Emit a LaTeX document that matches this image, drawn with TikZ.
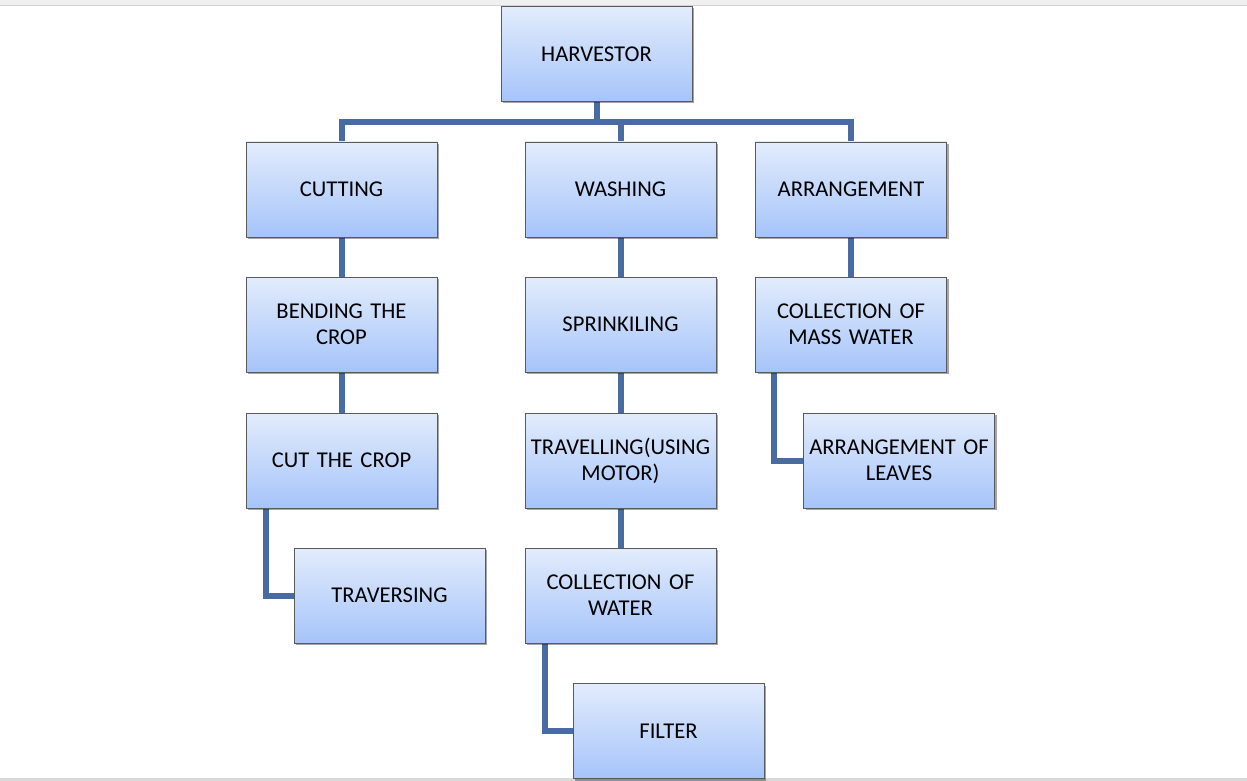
\documentclass[tikz,border=0pt]{standalone}
\usepackage{fontspec}
\setmainfont{Carlito}
\usetikzlibrary{shadows,backgrounds}
\definecolor{linkblue}{RGB}{72,108,162}
\definecolor{boxtop}{RGB}{226,236,252}
\definecolor{boxbot}{RGB}{166,196,250}
\definecolor{boxedge}{RGB}{90,90,90}
\tikzset{
  boxnode/.style={rectangle, draw=boxedge, line width=0.9pt,
    top color=boxtop, bottom color=boxbot,
    minimum width=191pt, minimum height=95pt, inner sep=1pt,
    text width=189pt, align=center,
    font=\fontsize{22.6}{26}\selectfont,
    drop shadow={shadow xshift=2pt, shadow yshift=-2pt, opacity=0.35, fill=black}},
  link/.style={draw=linkblue, line width=6pt, line join=miter}
}
\begin{document}
\begin{tikzpicture}[x=1pt,y=-1pt]
\useasboundingbox (0,0) rectangle (1247,781);
\node[boxnode] (harv) at (596.5,54) {HARVESTOR};
\node[boxnode] (cut) at (341.5,189.5) {CUTTING};
\node[boxnode] (wash) at (620.5,189.5) {WASHING};
\node[boxnode] (arr) at (851,189.5) {ARRANGEMENT};
\node[boxnode] (bend) at (341.5,324.5) {BENDING THE\\CROP};
\node[boxnode] (spr) at (620.5,324.5) {SPRINKILING};
\node[boxnode] (cmw) at (851,324.5) {COLLECTION OF\\MASS WATER};
\node[boxnode] (cc) at (341.5,460.5) {CUT THE CROP};
\node[boxnode] (trav) at (620.5,460.5) {TRAVELLING(USING\\MOTOR)};
\node[boxnode] (aol) at (899,460.5) {ARRANGEMENT OF\\LEAVES};
\node[boxnode] (trs) at (389.5,595.5) {TRAVERSING};
\node[boxnode] (cow) at (620.5,595.5) {COLLECTION OF\\WATER};
\node[boxnode] (fil) at (668.5,731) {FILTER};
\coordinate (bar) at (596.5,122);
\begin{scope}[on background layer]
  \fill[white] (0,0) rectangle (1247,781);
  \fill[gray!12] (0,0) rectangle (1247,5);
  \draw[gray!35, line width=1.5pt] (0,5.5) -- (1247,5.5);
  \draw[gray!30, line width=3pt] (0,779.5) -- (1247,779.5);
  \draw[link] (harv.south) -- (bar);
  \draw[link] (cut.north) |- (bar -| arr.north) -- (arr.north);
  \draw[link] (bar -| wash.north) -- (wash.north);
  \draw[link] (cut.south) -- (bend.north);
  \draw[link] (bend.south) -- (cc.north);
  \draw[link] ([xshift=-76pt]cc.south) |- (trs.west);
  \draw[link] (wash.south) -- (spr.north);
  \draw[link] (spr.south) -- (trav.north);
  \draw[link] (trav.south) -- (cow.north);
  \draw[link] ([xshift=-75.5pt]cow.south) |- (fil.west);
  \draw[link] (arr.south) -- (cmw.north);
  \draw[link] ([xshift=-77pt]cmw.south) |- (aol.west);
\end{scope}
\end{tikzpicture}
\end{document}
